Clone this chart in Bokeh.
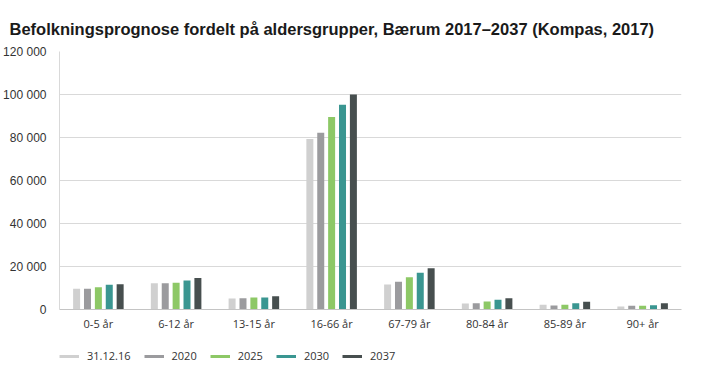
from bokeh.plotting import figure
from bokeh.layouts import column
from bokeh.models import (ColumnDataSource, FactorRange, Range1d, Legend, LegendItem,
                          CustomJSTickFormatter, FixedTicker)
from bokeh.transform import dodge
from bokeh.embed import file_html
from bokeh.resources import INLINE

title = "Befolkningsprognose fordelt på aldersgrupper, Bærum 2017–2037 (Kompas, 2017)"
categories = ["0-5 år", "6-12 år", "13-15 år", "16-66 år", "67-79 år", "80-84 år", "85-89 år", "90+ år"]
series = ["31.12.16", "2020", "2025", "2030", "2037"]
v_2016 = [9600, 12200, 5100, 79300, 11600, 2800, 2200, 1400]
v_2020 = [9600, 12200, 5250, 82200, 12900, 2900, 1850, 1700]
v_2025 = [10400, 12500, 5600, 89500, 15000, 3700, 2200, 1700]
v_2030 = [11500, 13500, 5600, 95200, 17100, 4500, 2900, 2000]
v_2037 = [11800, 14700, 6200, 100000, 19200, 5250, 3600, 2900]
y_ticks = [0, 20000, 40000, 60000, 80000, 100000, 120000]

colors = ["#d0d0d0", "#9b9b9e", "#8dc866", "#3a9691", "#474f4f"]

src = ColumnDataSource(dict(cat=categories, s0=v_2016, s1=v_2020, s2=v_2025, s3=v_2030, s4=v_2037))

p = figure(width=700, height=335, x_range=FactorRange(*categories, range_padding=0),
           y_range=Range1d(0, 120000), output_backend="svg", toolbar_location=None,
           min_border_left=52, min_border_right=19, min_border_top=51, min_border_bottom=26,
           title=title)

p.outline_line_color = None
p.title.text_font = "Liberation Sans"
p.title.text_font_style = "bold"
p.title.text_font_size = "16.5px"
p.title.text_color = "#1a1a1a"
p.title.align = "left"
p.title.standoff = 27
p.title.offset = -50

step = 0.14
bw = 0.09
for i in range(5):
    p.vbar(x=dodge("cat", (i - 2) * step, range=p.x_range), top="s%d" % i, width=bw,
           source=src, fill_color=colors[i], line_color=None)

p.yaxis.ticker = FixedTicker(ticks=y_ticks)
p.yaxis.formatter = CustomJSTickFormatter(code="return tick.toString().replace(/\\B(?=(\\d{3})+(?!\\d))/g, ' ');")
p.yaxis.major_tick_line_color = None
p.yaxis.minor_tick_line_color = None
p.yaxis.axis_line_color = "#d9d9d9"
p.yaxis.major_label_text_font = "Liberation Sans"
p.yaxis.major_label_text_font_size = "12px"
p.yaxis.major_label_text_color = "#333333"
p.yaxis.major_label_standoff = 7

p.xaxis.axis_line_color = "#c4c4c4"
p.xaxis.major_tick_line_color = None
p.xaxis.major_label_standoff = 0
p.xaxis.major_label_text_font = "Open Sans"
p.xaxis.major_label_text_font_size = "11px"
p.xaxis.major_label_text_color = "#333333"

p.xgrid.grid_line_color = None
p.ygrid.grid_line_color = "#d9d9d9"
p.ygrid.ticker = FixedTicker(ticks=y_ticks)

# legend strip
lf = figure(width=700, height=28, x_range=Range1d(0, 1), y_range=Range1d(0, 1),
            output_backend="svg", toolbar_location=None,
            min_border_left=52, min_border_right=19, min_border_top=0, min_border_bottom=0)
lf.axis.visible = False
lf.grid.visible = False
lf.outline_line_color = None
items = []
nan = float("nan")
for i, s in enumerate(series):
    r = lf.line(x=[nan, nan], y=[nan, nan], line_color=colors[i], line_width=3)
    items.append(LegendItem(label=s, renderers=[r]))
legend = Legend(items=items, location=(0, 0), orientation="horizontal", glyph_width=20,
                glyph_height=14, label_standoff=8, spacing=13, padding=0, margin=0,
                border_line_color=None, background_fill_alpha=0,
                label_text_font="Open Sans", label_text_font_size="11px",
                label_text_color="#333333")
lf.add_layout(legend)

layout = column(p, lf, spacing=0)
open("out.html", "w").write(file_html(layout, INLINE))
